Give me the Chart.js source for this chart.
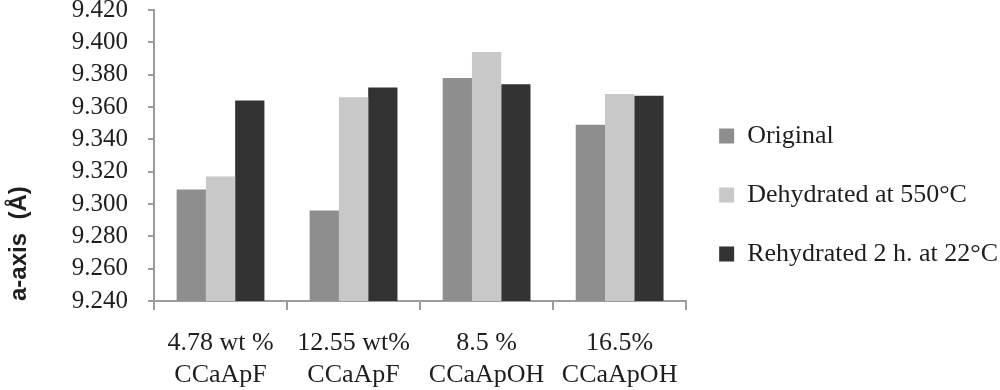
<!DOCTYPE html>
<html>
<head>
<meta charset="utf-8">
<script src="https://cdn.jsdelivr.net/npm/chart.js@4.4.1/dist/chart.umd.min.js"></script>
<style>
  html, body { margin: 0; padding: 0; background: #ffffff; }
  #wrap { width: 1000px; height: 390px; position: relative; }
</style>
</head>
<body>
<div id="wrap"><canvas id="c"></canvas></div>
<script>
const categories = [
  ['4.78 wt %', 'CCaApF'],
  ['12.55 wt%', 'CCaApF'],
  ['8.5 %', 'CCaApOH'],
  ['16.5%', 'CCaApOH']
];
const seriesNames = ['Original', 'Dehydrated at 550\u00B0C', 'Rehydrated 2 h. at 22\u00B0C'];
const originalValues    = [9.309, 9.296, 9.378, 9.349];
const dehydratedValues  = [9.317, 9.366, 9.394, 9.368];
const rehydratedValues  = [9.364, 9.372, 9.374, 9.367];
const yMin = 9.240, yMax = 9.420, yStep = 0.020;
const yTitle = 'a-axis  (\u00C5)';

const seriesColors = ['#8e8e8e', '#c8c8c8', '#333333'];
const axisColor = '#9c9c9c';
const textColor = '#1e1e1e';
const serif = '"Liberation Serif", "DejaVu Serif", serif';
const sans = '"Liberation Sans", Arial, sans-serif';

const seriesValues = [originalValues, dehydratedValues, rehydratedValues];

new Chart(document.getElementById('c'), {
  type: 'bar',
  data: {
    labels: categories,
    datasets: seriesNames.map((name, i) => ({
      label: name,
      data: seriesValues[i],
      backgroundColor: seriesColors[i],
      borderWidth: 0,
      categoryPercentage: 0.66,
      barPercentage: 1.0
    }))
  },
  options: {
    responsive: true,
    maintainAspectRatio: false,
    animation: false,
    devicePixelRatio: 1,
    layout: { padding: { left: 0, right: -8, top: 0, bottom: 0 } },
    plugins: {
      tooltip: { enabled: false },
      legend: {
        position: 'right',
        align: 'center',
        maxWidth: 420,
        labels: {
          boxWidth: 15,
          boxHeight: 15,
          padding: 33,
          color: textColor,
          font: { family: serif, size: 26 }
        }
      }
    },
    scales: {
      x: {
        offset: true,
        afterFit: (scale) => { scale.height = 89; },
        border: { display: true, color: axisColor, width: 2 },
        grid: {
          offset: true,
          display: true,
          drawOnChartArea: false,
          drawTicks: true,
          tickLength: 9,
          color: axisColor,
          lineWidth: 2
        },
        ticks: {
          color: textColor,
          padding: 18,
          maxRotation: 0,
          autoSkip: false,
          font: { family: serif, size: 26, lineHeight: 1.2 }
        }
      },
      y: {
        min: yMin,
        max: yMax,
        afterFit: (scale) => {
          scale.width = 154;
          scale.paddingTop = 10;
          scale.paddingBottom = 0;
        },
        border: { display: true, color: axisColor, width: 2 },
        grid: {
          display: true,
          drawOnChartArea: false,
          drawTicks: true,
          tickLength: 6,
          color: axisColor,
          lineWidth: 2
        },
        ticks: {
          stepSize: yStep,
          color: textColor,
          padding: 20,
          font: { family: serif, size: 25, lineHeight: 0.8 },
          callback: (v) => Number(v).toFixed(3)
        },
        title: {
          display: true,
          text: yTitle,
          align: 'start',
          color: textColor,
          padding: { top: 7, bottom: 0 },
          font: { family: sans, size: 24, weight: 'bold', lineHeight: 1.0 }
        }
      }
    }
  }
});
</script>
</body>
</html>
